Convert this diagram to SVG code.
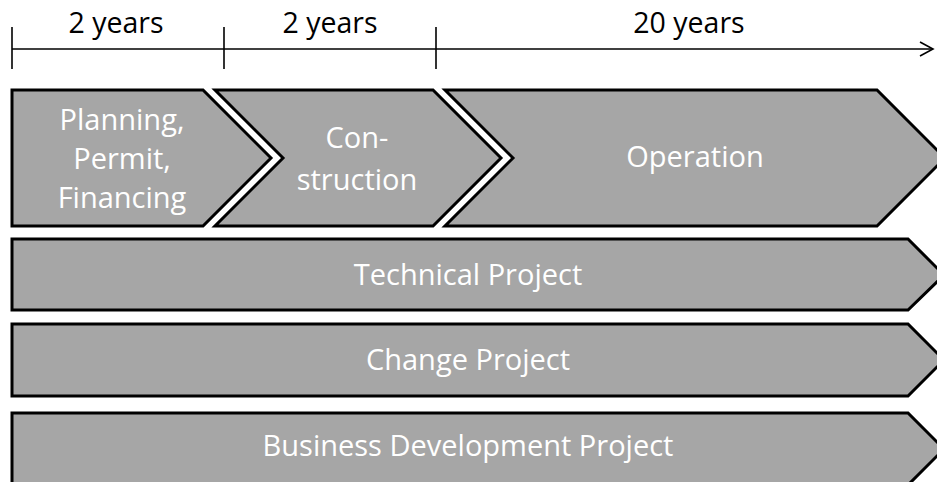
<svg xmlns="http://www.w3.org/2000/svg" width="937" height="482" viewBox="0 0 937 482">
<style>
.shape{fill:#a6a6a6;stroke:#000;stroke-width:3;stroke-linejoin:miter}
.lbl{font-family:"Open Sans","Noto Sans",sans-serif;font-size:29px;fill:#fff;text-anchor:middle}
.top{font-family:"Open Sans","Noto Sans",sans-serif;font-size:28.5px;fill:#000;text-anchor:middle}
.axis{stroke:#000;stroke-width:1.6;fill:none}
</style>
<rect width="937" height="482" fill="#fff"/>
<g id="connectors">
<line class="axis" x1="12" y1="49" x2="933" y2="49"/>
<line class="axis" x1="12" y1="27" x2="12" y2="69"/>
<line class="axis" x1="224" y1="27" x2="224" y2="69"/>
<line class="axis" x1="436" y1="27" x2="436" y2="69"/>
<polyline class="axis" points="920,42 933,49 920,56"/>
<text class="top" x="116" y="33">2 years</text>
<text class="top" x="330" y="33">2 years</text>
<text class="top" x="689" y="33">20 years</text>
</g>
<g id="planning">
<path class="shape" d="M12,90 L203,90 L271,158 L203,226 L12,226 Z"/>
<text class="lbl" x="122" y="130">Planning,</text>
<text class="lbl" x="122" y="169">Permit,</text>
<text class="lbl" x="122" y="208">Financing</text>
</g>
<g id="construction">
<path class="shape" d="M215,90 L433,90 L501,158 L433,226 L215,226 L283,158 Z"/>
<text class="lbl" x="357" y="148">Con-</text>
<text class="lbl" x="357" y="190">struction</text>
</g>
<g id="operation">
<path class="shape" d="M445,90 L877,90 L945,158 L877,226 L445,226 L513,158 Z"/>
<text class="lbl" x="695" y="167">Operation</text>
</g>
<g id="technical">
<path class="shape" d="M12,239 L908,239 L944,275 L908,310 L12,310 Z"/>
<text class="lbl" x="468" y="285">Technical Project</text>
</g>
<g id="change">
<path class="shape" d="M12,324 L908,324 L944,360 L908,396 L12,396 Z"/>
<text class="lbl" x="468" y="370">Change Project</text>
</g>
<g id="business">
<path class="shape" d="M12,413 L908,413 L944,449 L908,485 L12,485 Z"/>
<text class="lbl" x="468" y="456">Business Development Project</text>
</g>
</svg>
